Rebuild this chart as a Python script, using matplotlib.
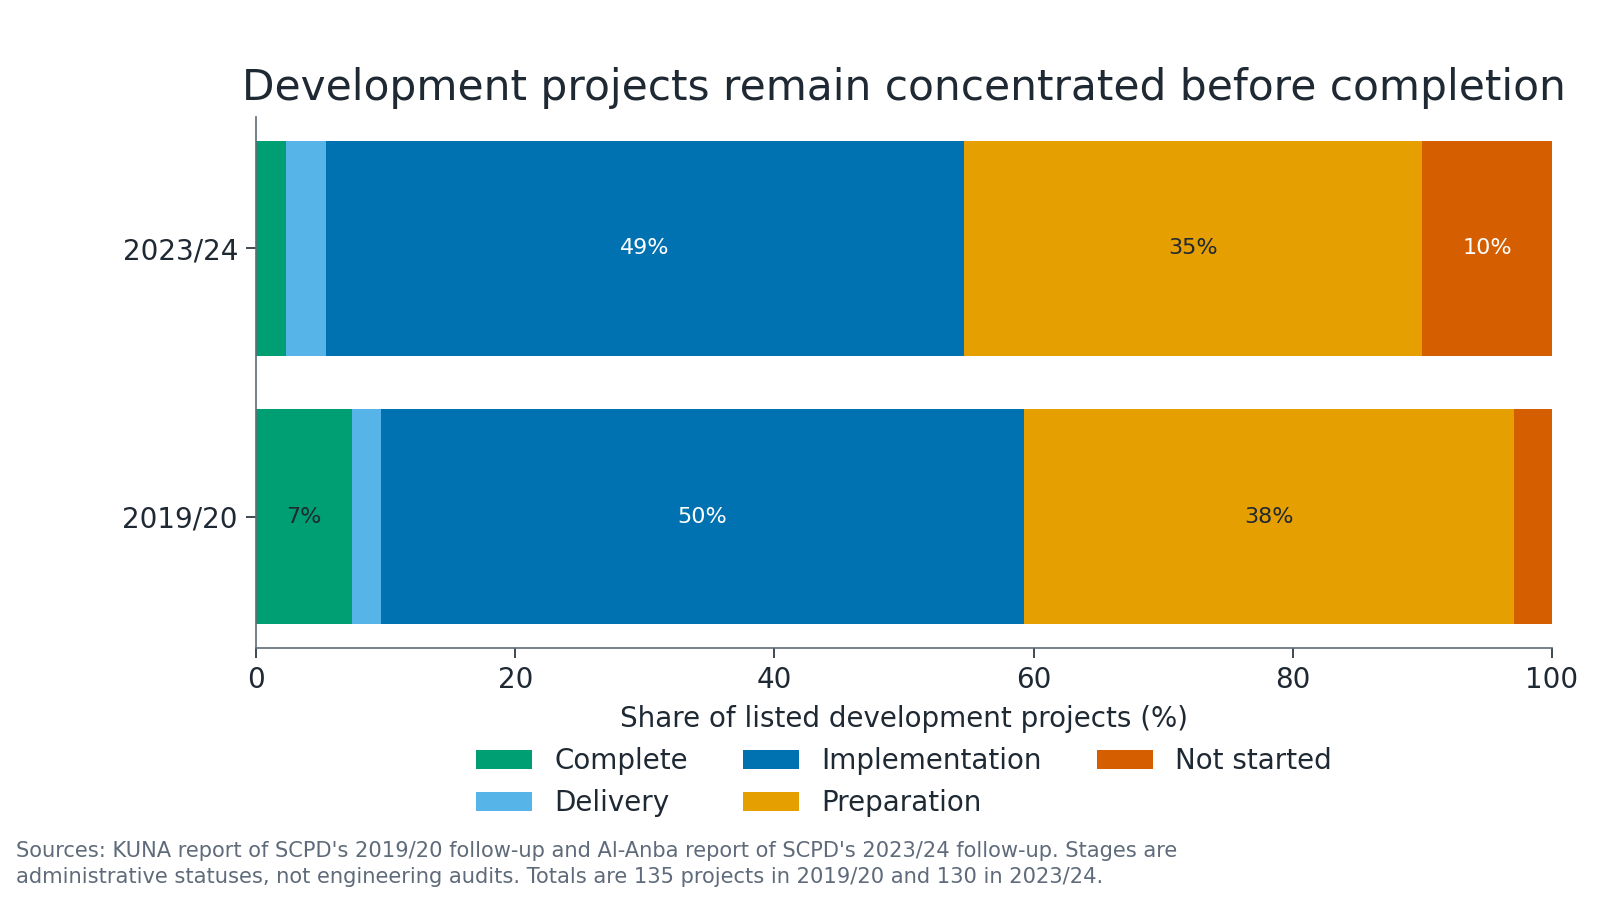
import numpy as np
import matplotlib
matplotlib.use("Agg")
import matplotlib.pyplot as plt

# data: project counts per stage (shares computed from totals)
periods = ["2019/20", "2023/24"]
stages = ["Complete", "Delivery", "Implementation", "Preparation", "Not started"]
complete = [10, 3]
delivery = [3, 4]
implementation = [67, 64]
preparation = [51, 46]
not_started = [4, 13]

colors = ["#009E73", "#56B4E9", "#0072B2", "#E69F00", "#D55E00"]
label_colors = ["#1f2933", "#1f2933", "white", "#1f2933", "white"]
text_dark = "#1f2933"
spine_grey = "#5f6b75"

plt.rcParams["font.family"] = ["DejaVu Sans"]

counts = np.array([complete, delivery, implementation, preparation, not_started], dtype=float)
totals = counts.sum(axis=0)
shares = counts / totals * 100

fig = plt.figure(figsize=(16, 9), dpi=100)
ax = fig.add_axes([0.16, 0.28, 0.81, 0.59])

y = np.arange(len(periods))
left = np.zeros(len(periods))
for i, stage in enumerate(stages):
    bars = ax.barh(y, shares[i], left=left, height=0.8, color=colors[i], label=stage)
    for j, b in enumerate(bars):
        v = shares[i][j]
        if v >= 5:
            ax.text(left[j] + v / 2, y[j], f"{v:.0f}%", ha="center", va="center",
                    fontsize=16, color=label_colors[i])
    left += shares[i]

ax.set_xlim(0, 100)
ax.set_yticks(y)
ax.set_yticklabels(periods)
ax.tick_params(axis="both", labelsize=20, colors=text_dark, length=7, width=1.2, pad=6)
for s in ["top", "right"]:
    ax.spines[s].set_visible(False)
for s in ["left", "bottom"]:
    ax.spines[s].set_color(spine_grey)
    ax.spines[s].set_linewidth(1.2)

ax.set_xlabel("Share of listed development projects (%)", fontsize=20, color=text_dark, labelpad=8)
ax.set_title("Development projects remain concentrated before completion",
             fontsize=30.4, color=text_dark, pad=12)

ax.legend(ncol=3, loc="upper center", bbox_to_anchor=(0.5, -0.14), frameon=False,
          fontsize=20, handlelength=2.0, handleheight=0.7, columnspacing=2.0,
          labelspacing=0.5, labelcolor=text_dark)

fig.text(0.01, 0.014,
         "Sources: KUNA report of SCPD's 2019/20 follow-up and Al-Anba report of SCPD's 2023/24 follow-up. Stages are\n"
         "administrative statuses, not engineering audits. Totals are 135 projects in 2019/20 and 130 in 2023/24.",
         fontsize=15.1, color="#5f6b7a", ha="left", va="bottom", linespacing=1.4)

fig.savefig("out.png", dpi=100)
